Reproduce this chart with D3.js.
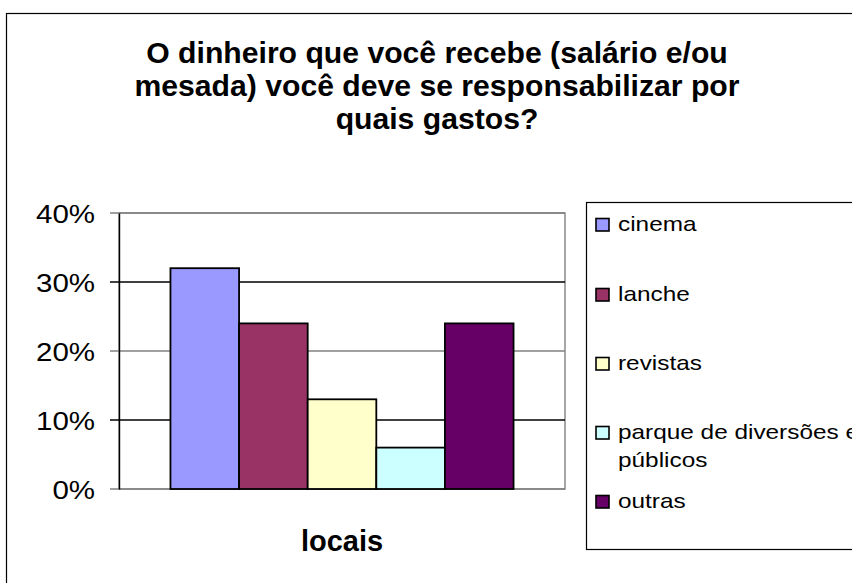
<!DOCTYPE html>
<html><head><meta charset="utf-8">
<script src="https://cdn.jsdelivr.net/npm/d3@7"></script>
<style>html,body{margin:0;padding:0;background:#fff;overflow:hidden}</style>
</head><body>
<svg id="c" width="852" height="583"></svg>
<script>
const titleLines = ["O dinheiro que você recebe (salário e/ou", "mesada) você deve se responsabilizar por", "quais gastos?"];
const category = ["locais"];
const seriesNames = ["cinema", "lanche", "revistas", "parque de diversões e públicos", "outras"];
const legendLines = [["cinema"], ["lanche"], ["revistas"], ["parque de diversões e", "públicos"], ["outras"]];
const seriesValues = [0.32, 0.24, 0.13, 0.06, 0.24];
const seriesColors = ["#9999ff", "#993366", "#ffffcc", "#ccffff", "#660066"];
const yTicks = [0, 0.1, 0.2, 0.3, 0.4];

(function() {
const svg = d3.select("#c");
const font = "'Liberation Sans', Arial, sans-serif";

svg.append("rect").attr("x", 6.5).attr("y", 13.5).attr("width", 900).attr("height", 700)
  .attr("fill", "#fff").attr("stroke", "#000").attr("stroke-width", 1.2);

// title (slightly stretched horizontally like the reference)
const tsx = 1.04;
svg.append("g").selectAll("text").data(titleLines).join("text")
  .attr("transform", (d, i) => `translate(437,${63 + i * 33}) scale(${tsx},1)`)
  .attr("text-anchor", "middle").attr("font-family", font).attr("font-weight", "bold")
  .attr("font-size", 29).attr("fill", "#000").text(d => d);

const pL = 119, pR = 565, pT = 213, pB = 489;
const y = d3.scaleLinear().domain([0, 0.4]).range([pB, pT]);
const x0 = d3.scaleBand().domain(category).range([pL, pR]).paddingInner(0).paddingOuter(0.15);
const x1 = d3.scaleBand().domain(seriesNames).range([0, x0.bandwidth()]).padding(0);

svg.append("rect").attr("x", pL).attr("y", pT).attr("width", pR - pL).attr("height", pB - pT)
  .attr("fill", "#fff").attr("stroke", "#808080").attr("stroke-width", 1.4);

svg.append("g").selectAll("line").data(yTicks).join("line")
  .attr("x1", pL - 9).attr("x2", pR).attr("y1", d => y(d)).attr("y2", d => y(d))
  .attr("stroke", (d, i) => i % 2 === 0 ? "#808080" : "#000").attr("stroke-width", 1.4);

const yAxis = d3.axisLeft(y).tickValues(yTicks).tickFormat(d3.format(".0%")).tickSize(0).tickPadding(0);
const ga = svg.append("g").attr("transform", `translate(${pL},0)`).call(yAxis);
ga.select(".domain").attr("stroke", "#000").attr("stroke-width", 1.4);
ga.selectAll(".tick text").attr("x", null).attr("dy", null)
  .attr("transform", "translate(-24,9) scale(1.18,1)")
  .attr("font-family", font).attr("font-size", 25).attr("fill", "#000");

const g = svg.append("g").selectAll("g").data(category).join("g")
  .attr("transform", d => `translate(${x0(d)},0)`);
g.selectAll("rect").data(seriesNames.map((s, i) => ({s, v: seriesValues[i], c: seriesColors[i]}))).join("rect")
  .attr("x", d => x1(d.s)).attr("width", x1.bandwidth())
  .attr("y", d => y(d.v)).attr("height", d => y(0) - y(d.v))
  .attr("fill", d => d.c).attr("stroke", "#000").attr("stroke-width", 1.8);

svg.append("text").attr("x", x0("locais") + x0.bandwidth() / 2).attr("y", 551)
  .attr("text-anchor", "middle").attr("font-family", font).attr("font-weight", "bold")
  .attr("font-size", 29).attr("fill", "#000").text(category[0]);

svg.append("rect").attr("x", 586.5).attr("y", 202.5).attr("width", 400).attr("height", 347)
  .attr("fill", "#fff").attr("stroke", "#000").attr("stroke-width", 1.2);
const legY = [231, 301, 370, 439, 508];
const lg = svg.append("g").selectAll("g").data(seriesNames).join("g")
  .attr("transform", (d, i) => `translate(595,${legY[i]})`);
lg.append("rect").attr("x", 1).attr("y", -12.5).attr("width", 13).attr("height", 12.5)
  .attr("fill", (d, i) => seriesColors[i]).attr("stroke", "#000").attr("stroke-width", 1.6);
lg.each(function(d, i) {
  d3.select(this).selectAll("text").data(legendLines[i]).join("text")
    .attr("transform", (t, j) => `translate(23,${j * 28}) scale(1.16,1)`)
    .attr("font-family", font).attr("font-size", 21).attr("fill", "#000").text(t => t);
});
})();
</script>
</body></html>
